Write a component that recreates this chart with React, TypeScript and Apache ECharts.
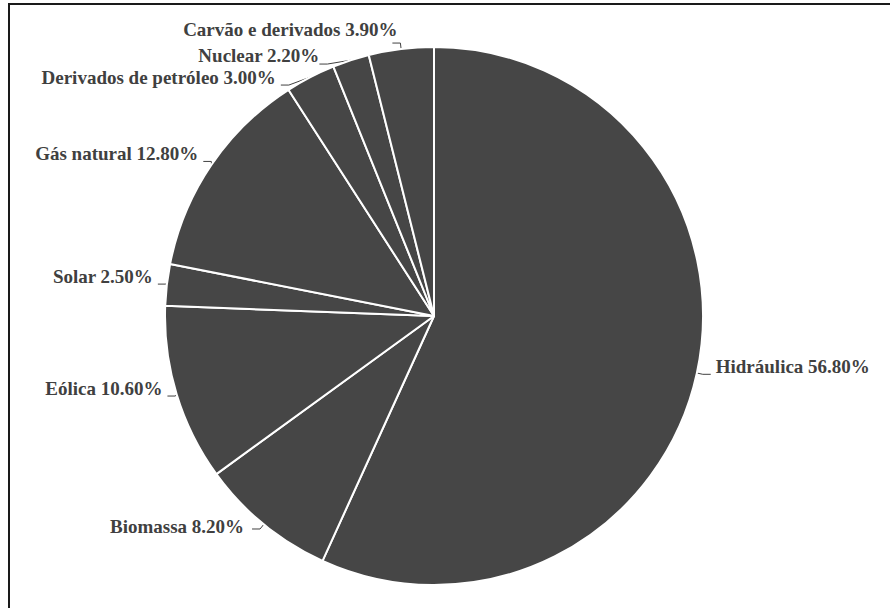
import React, { useEffect, useRef } from "react";
import * as echarts from "echarts";

// Matriz elétrica por fonte (%), em sentido horário a partir do topo
const categories = [
  "Hidráulica",
  "Biomassa",
  "Eólica",
  "Solar",
  "Gás natural",
  "Derivados de petróleo",
  "Nuclear",
  "Carvão e derivados",
];
const shares = [56.8, 8.2, 10.6, 2.5, 12.8, 3.0, 2.2, 3.9];

// small nudges so each label sits above the end of its leader line
const labelShift: Record<number, { dx: number; dy: number }> = {
  1: { dx: -3, dy: -2 },
  6: { dx: 5, dy: -9 },
  7: { dx: 10, dy: -14 },
};

export default function App() {
  const ref = useRef<HTMLDivElement>(null);

  useEffect(() => {
    if (!ref.current) return;
    const chart = echarts.init(ref.current, null, { renderer: "svg" });
    chart.setOption({
      animation: false,
      backgroundColor: "#ffffff",
      graphic: [
        {
          type: "rect",
          shape: { x: 9, y: 4, width: 900, height: 620 },
          style: { fill: "none", stroke: "#1a1a1a", lineWidth: 2 },
          silent: true,
        },
      ],
      series: [
        {
          type: "pie",
          center: [434, 316],
          radius: [0, 269],
          startAngle: 90,
          clockwise: true,
          avoidLabelOverlap: true,
          itemStyle: { color: "#464646", borderColor: "#ffffff", borderWidth: 2 },
          label: {
            show: true,
            position: "outside",
            color: "#404040",
            fontFamily: "'Liberation Serif', 'Times New Roman', serif",
            fontWeight: "bold",
            fontSize: 19,
            formatter: (p: any) => `${p.name} ${Number(p.value).toFixed(2)}%`,
          },
          labelLine: {
            show: true,
            length: 6,
            length2: 8,
            lineStyle: { color: "#404040", width: 1 },
          },
          labelLayout: (p: any) => labelShift[p.dataIndex] ?? { dx: 0, dy: -8 },
          emphasis: { disabled: true },
          data: categories.map((name, i) => ({ name, value: shares[i] })),
        },
      ],
    });
    return () => chart.dispose();
  }, []);

  return (
    <div
      ref={ref}
      style={{ position: "fixed", left: 0, top: 0, width: 890, height: 608 }}
    />
  );
}
